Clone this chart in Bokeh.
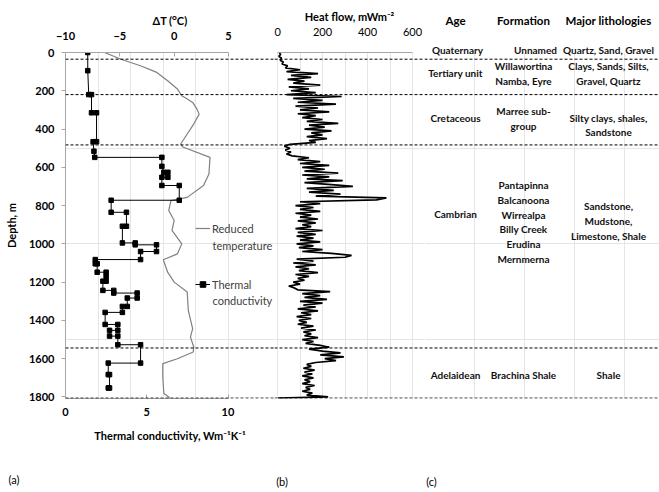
from bokeh.plotting import figure
from bokeh.models import (Range1d, LinearAxis, FixedTicker, Span, Title,
                          Legend, LegendItem)
from bokeh.layouts import row
from bokeh.embed import file_html
from bokeh.resources import INLINE
from bokeh.core.properties import value

# ---------------- data ----------------
# Reduced temperature (deltaT, degC) vs depth (m)
TEMP_DEPTH = [0, 35, 69, 104, 148, 191, 226, 243, 261, 296, 322, 374, 426, 478, 494,
              548, 635, 695, 757, 774, 826, 878, 930, 1000, 1052, 1083, 1148, 1200,
              1252, 1348, 1443, 1487, 1539, 1565, 1600, 1626, 1696, 1782, 1804]
TEMP_DT = [-6.4, -4.9, -3.1, -1.6, -0.6, 0.3, 0.7, 1.2, 1.7, 2.1, 2.3, 1.8, 1.2, 0.6, 0.8,
           3.3, 3.2, 2.7, 1.2, -0.3, -0.5, 0.0, -0.2, 0.7, 0.3, -1.0, -0.6, 0.0,
           1.2, 1.3, 1.7, 1.5, 1.8, 1.75, 0.3, -1.05, -1.05, -0.95, -0.4]

# Thermal conductivity (W/m/K) step profile vs depth (m)
COND_DEPTH = [0, 95, 220, 220, 315, 315, 466, 466, 516, 548, 548, 595, 626, 626, 652, 652,
              695, 695, 772, 772, 835, 835, 908, 908, 995, 995, 1005, 1005, 1040, 1040,
              1082, 1082, 1104, 1104, 1148, 1148, 1170, 1195, 1195, 1243, 1243, 1257, 1257,
              1283, 1283, 1327, 1327, 1358, 1358, 1421, 1421, 1452, 1452, 1482, 1482,
              1527, 1527, 1623, 1623, 1683, 1683, 1753, 1753]
COND_K = [1.37, 1.37, 1.43, 1.6, 1.6, 1.91, 1.91, 1.7, 1.75, 1.8, 5.93, 5.93, 6.05, 6.3, 6.3, 5.93,
          5.93, 7.0, 7.0, 2.81, 2.81, 3.75, 3.75, 3.5, 3.5, 4.29, 4.29, 5.6, 5.6, 4.62,
          4.62, 1.83, 1.83, 1.95, 1.95, 2.5, 2.5, 2.5, 2.3, 2.3, 2.97, 2.97, 4.41,
          4.41, 3.8, 3.8, 3.5, 3.5, 2.44, 2.44, 3.22, 3.22, 2.71, 2.71, 3.22,
          3.22, 4.62, 4.62, 2.63, 2.63, 2.71, 2.71, 2.63]

# Heat flow (mW/m2), one reading every 10 m from 0 to 1800 m, then the last reading
HEAT_FLOW = [
    8, 14, 6, 18, 12, 26, 20, 45, 35, 100,
    40, 180, 60, 150, 45, 120, 70, 190, 50, 140,
    60, 170, 40, 285, 70, 200, 90, 260, 80, 180,
    100, 230, 90, 170, 110, 200, 130, 270, 140, 210,
    120, 240, 150, 200, 130, 220, 140, 170, 55, 30,
    55, 35, 60, 40, 65, 140, 90, 190, 100, 230,
    110, 210, 120, 270, 110, 230, 130, 290, 120, 240,
    335, 130, 250, 140, 280, 170, 484, 440, 100, 190,
    80, 160, 100, 190, 80, 150, 100, 180, 90, 170,
    110, 150, 80, 200, 90, 170, 85, 160, 100, 190,
    85, 160, 95, 200, 110, 240, 329, 300, 85, 160,
    70, 170, 80, 140, 95, 180, 80, 140, 90, 120,
    70, 100, 50, 75, 90, 234, 110, 190, 120, 220,
    100, 200, 115, 170, 90, 180, 105, 150, 85, 150,
    95, 130, 90, 160, 105, 170, 115, 150, 120, 180,
    110, 160, 125, 190, 230, 140, 200, 280, 190, 295,
    210, 260, 170, 130, 150, 115, 165, 120, 155, 110,
    160, 120, 145, 110, 165, 125, 145, 110, 155, 130,
    225, 2]
HEAT_DEPTH = [10 * i for i in range(181)] + [1806]

# Unit boundaries (m)
BOUNDARY_DEPTHS = [35, 220, 483, 1544, 1806]

COND_TICKS = [0, 5, 10]
DT_TICKS = [-10, -5, 0, 5]
HEAT_TICKS = [0, 200, 400, 600]
DEPTH_TICKS = [0, 200, 400, 600, 800, 1000, 1200, 1400, 1600, 1800]

HEADERS = ["Age", "Formation", "Major lithologies"]
TOP_ROW = ["Quaternary", "Unnamed", "Quartz, Sand, Gravel"]
AGES = ["Tertiary unit", "Cretaceous", "Cambrian", "Adelaidean"]
FORMATIONS = ["Willawortina", "Namba, Eyre", "Marree sub-", "group", "Pantapinna",
              "Balcanoona", "Wirrealpa", "Billy Creek", "Erudina", "Mernmerna",
              "Brachina Shale"]
LITHOLOGIES = ["Clays, Sands, Silts,", "Gravel, Quartz",
               "Silty clays, shales,", "Sandstone", "Sandstone,", "Mudstone,",
               "Limestone, Shale", "Shale"]
LEGEND_FIRST = ["Reduced", "Thermal"]
LEGEND_SECOND = ["temperature", "conductivity"]
PANEL_LABELS = ["(a)", "(b)", "(c)"]

# ---------------- layout ----------------
FONT = "Lato"
H = 492
TOP = 52
BOTTOM = 94
D_MAX = 1808
PX_PER_M = (H - TOP - BOTTOM) / D_MAX


def dpx(y):
    """page pixel row -> depth"""
    return (y - TOP) / PX_PER_M


A_W, A_LEFT = 274, 65
K_PX = 16.25          # px per W/m/K
DT_PX = 10.867        # px per degC
B_W = 150
HF_PX = 0.225         # px per mW/m2
HF0 = 277 - A_W
C_W = 659 - A_W - B_W
X0 = A_W + B_W
GREY = "#a6a6a6"


def style_axis(ax, bold_ticks=True, tick_in=0, tick_out=0, lab_standoff=8, title_standoff=6,
               size="11px"):
    ax.axis_line_color = GREY
    ax.major_tick_line_color = GREY
    ax.minor_tick_line_color = None
    ax.major_tick_in = tick_in
    ax.major_tick_out = tick_out
    ax.major_label_text_font = FONT
    ax.major_label_text_font_size = size
    ax.major_label_text_font_style = "bold" if bold_ticks else "normal"
    ax.major_label_text_color = "black"
    ax.major_label_standoff = lab_standoff
    ax.axis_label_text_font = FONT
    ax.axis_label_text_font_size = "11px"
    ax.axis_label_text_font_style = "bold"
    ax.axis_label_text_color = "black"
    ax.axis_label_standoff = title_standoff


def label_axis(fig, where, ticks, labels, standoff, bold=False, size="11px", color="black"):
    ax = LinearAxis(ticker=FixedTicker(ticks=ticks),
                    major_label_overrides=dict(zip(ticks, labels)))
    style_axis(ax, bold_ticks=bold, lab_standoff=standoff, size=size)
    ax.axis_line_color = None
    ax.major_tick_line_color = None
    ax.major_label_text_color = color
    fig.add_layout(ax, where)


def make_fig(width, left, x_range):
    f = figure(width=width, height=H, output_backend="svg", toolbar_location=None,
               x_range=x_range, y_range=Range1d(D_MAX, 0),
               min_border_left=left, min_border_right=0, min_border_top=TOP,
               min_border_bottom=BOTTOM, x_axis_location=None, y_axis_location=None)
    f.outline_line_color = None
    f.background_fill_color = "white"
    f.border_fill_color = "white"
    for d in BOUNDARY_DEPTHS:
        f.add_layout(Span(location=d, dimension="width", line_color="black",
                          line_dash="3 2", line_width=1))
    return f


# ---------- panel (a) ----------
pA = make_fig(A_W, A_LEFT, Range1d(0, (A_W - A_LEFT) / K_PX))
pA.extra_x_ranges = {"dt": Range1d(-10, -10 + (A_W - A_LEFT) / DT_PX)}

ax_k = LinearAxis(bounds=(0, 10), ticker=FixedTicker(ticks=COND_TICKS),
                  axis_label="Thermal conductivity, Wm⁻¹K⁻¹")
style_axis(ax_k, tick_in=4, lab_standoff=9, title_standoff=10)
pA.add_layout(ax_k, "below")

ax_dt = LinearAxis(x_range_name="dt", bounds=(-10, 5), ticker=FixedTicker(ticks=DT_TICKS),
                   axis_label="ΔT (ᴼC)")
style_axis(ax_dt, tick_in=4, lab_standoff=13, title_standoff=2)
pA.add_layout(ax_dt, "above")

ax_d = LinearAxis(ticker=FixedTicker(ticks=DEPTH_TICKS), axis_label="Depth, m")
style_axis(ax_d, tick_out=4, lab_standoff=7, title_standoff=8)
pA.add_layout(ax_d, "left")

temp_r = pA.line(x=TEMP_DT, y=TEMP_DEPTH, x_range_name="dt", line_color="#808080",
                 line_width=1.2)
cond_r = pA.line(x=COND_K, y=COND_DEPTH, line_color="black", line_width=1)
cond_p = pA.scatter(x=COND_K, y=COND_DEPTH, marker="square", size=4.5, color="black")

for item, loc in zip([LegendItem(label=LEGEND_FIRST[0], renderers=[temp_r]),
                      LegendItem(label=LEGEND_FIRST[1], renderers=[cond_r, cond_p])],
                     [(130, 163), (130, 107)]):
    leg = Legend(items=[item], location=loc, padding=0, margin=0, glyph_width=15,
                 glyph_height=14, label_height=14, label_standoff=2,
                 label_text_font=FONT, label_text_font_size="11px",
                 label_text_color="#404040", border_line_color=None,
                 background_fill_alpha=0)
    pA.add_layout(leg)

pA.text(x=[(212 - A_LEFT) / K_PX] * 2, y=[dpx(245), dpx(300)], text=LEGEND_SECOND,
        text_font=value(FONT), text_font_size="11px", text_color="#404040",
        text_align="left", text_baseline="middle")

pA.add_layout(Title(text="\n\n" + PANEL_LABELS[0], align="left", offset=8 - A_LEFT,
                    standoff=0, text_font=FONT, text_font_size="11px",
                    text_font_style="normal", text_color="black"), "below")

# ---------- panel (b) ----------
pB = make_fig(B_W, 0, Range1d(-HF0 / HF_PX, (B_W - HF0) / HF_PX))
ax_h = LinearAxis(bounds=(0, 600), ticker=FixedTicker(ticks=HEAT_TICKS),
                  axis_label="Heat flow, mWm⁻²")
style_axis(ax_h, bold_ticks=False, lab_standoff=17, title_standoff=2)
ax_h.major_tick_line_color = None
pB.add_layout(ax_h, "above")
pB.line(x=HEAT_FLOW, y=HEAT_DEPTH, line_color="black", line_width=1.7)
label_axis(pB, "below", [20], [PANEL_LABELS[1]], 76)

# ---------- panel (c) ----------
pC = make_fig(C_W, 0, Range1d(0, C_W))
COL_X = [31, 99, 184]
label_axis(pC, "above", [33, 111, 184], TOP_ROW, -3, bold=True, size="10px", color="#111111")
label_axis(pC, "above", COL_X, HEADERS, 14, bold=True, size="11.5px")
label_axis(pC, "below", [7], [PANEL_LABELS[2]], 76)

tstyle = dict(text_font=value(FONT), text_font_style="bold", text_color="#111111",
              text_baseline="middle", text_font_size="10px")
pC.text(x=[COL_X[0]] * len(AGES), y=[dpx(v) for v in [72, 117.3, 213.3, 374.3]],
        text=AGES, text_align="center", **tstyle)
pC.text(x=[COL_X[1]] * len(FORMATIONS),
        y=[dpx(v) for v in [65, 80.7, 110.3, 125.7, 184, 199, 214, 228.7, 243.7, 258.7, 374.3]],
        text=FORMATIONS, text_align="center", **tstyle)
pC.text(x=[COL_X[2]] * len(LITHOLOGIES),
        y=[dpx(v) for v in [65, 80.3, 117.7, 131.7, 205.7, 220.3, 235.3, 374.3]],
        text=LITHOLOGIES, text_align="center", **tstyle)

layout = row(pA, pB, pC, spacing=0)
open("out.html", "w").write(file_html(layout, INLINE))
